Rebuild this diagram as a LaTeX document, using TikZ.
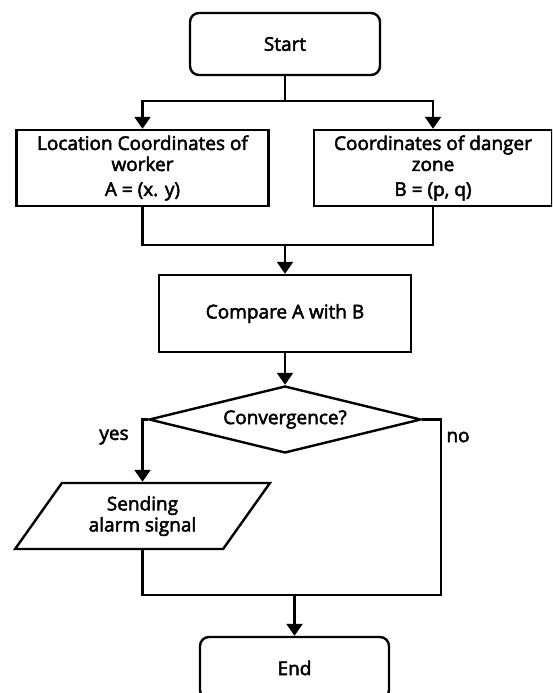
\documentclass[tikz,border=0pt]{standalone}
\usepackage{fontspec}
\setmainfont{Open Sans}[FakeBold=2.6]
\usetikzlibrary{shapes.geometric,arrows.meta}
\begin{document}
\begin{tikzpicture}[x=1pt,y=-1pt,
  every node/.style={font=\fontsize{19}{21}\selectfont},
  conn/.style={line width=2.4pt},
  arr/.style={conn,-{Triangle[width=16pt,length=12pt]}},
  term/.style={draw,line width=2.4pt,rounded corners=9pt,minimum width=190pt,minimum height=62pt,inner sep=0pt},
  procbox/.style={draw,line width=2.4pt,inner sep=0pt,align=center},
  decision/.style={draw,line width=2.4pt,diamond,aspect=4.06,minimum width=272pt,minimum height=67pt,inner sep=0pt},
  iobox/.style={draw,line width=2.4pt,trapezium,trapezium left angle=52,trapezium right angle=128,trapezium stretches=true,minimum width=255pt,minimum height=66pt,inner sep=0pt,align=center},
  lbl/.style={inner sep=0pt}]
\useasboundingbox (0,0) rectangle (552,693);
\clip (0,0) rectangle (552,693);
\node[term] (start) at (285,44) {Start};
\node[procbox,minimum width=252pt,minimum height=76pt] (loc) at (142.5,168) {Location Coordinates of\\worker\\[4pt]A = (x. y)};
\node[procbox,minimum width=238pt,minimum height=76pt] (dz) at (433,168) {Coordinates of danger\\zone\\[4pt]B = (p, q)};
\node[procbox,minimum width=252pt,minimum height=77pt] (comp) at (285,313.5) {Compare A with B};
\node[decision] (conv) at (285,419.5) {Convergence?};
\node[iobox] (send) at (142.5,516) {Sending\\alarm signal};
\node[term,minimum width=189pt] (end) at (294.5,668) {End};
\node[lbl] (yes) at (114,437) {yes};
\node[lbl] (no) at (458,437) {no};
\coordinate (s1) at (285,101);
\coordinate (m1) at (285,245);
\coordinate (nr) at (441,419.5);
\coordinate (m2) at (294.5,595);
\draw[conn] (start.south) -- (s1);
\draw[arr] (s1) -| (loc.north);
\draw[arr] (s1) -| (dz.north);
\draw[conn] (loc.south) |- (m1) -| (dz.south);
\draw[arr] (m1) -- (comp.north);
\draw[arr] (comp.south) -- (conv.north);
\draw[arr] (conv.west) -| (send.north);
\draw[conn] (conv.east) -- (nr) |- (m2);
\draw[conn] (send.south) |- (m2);
\draw[arr] (m2) -- (end.north);
\end{tikzpicture}
\end{document}
